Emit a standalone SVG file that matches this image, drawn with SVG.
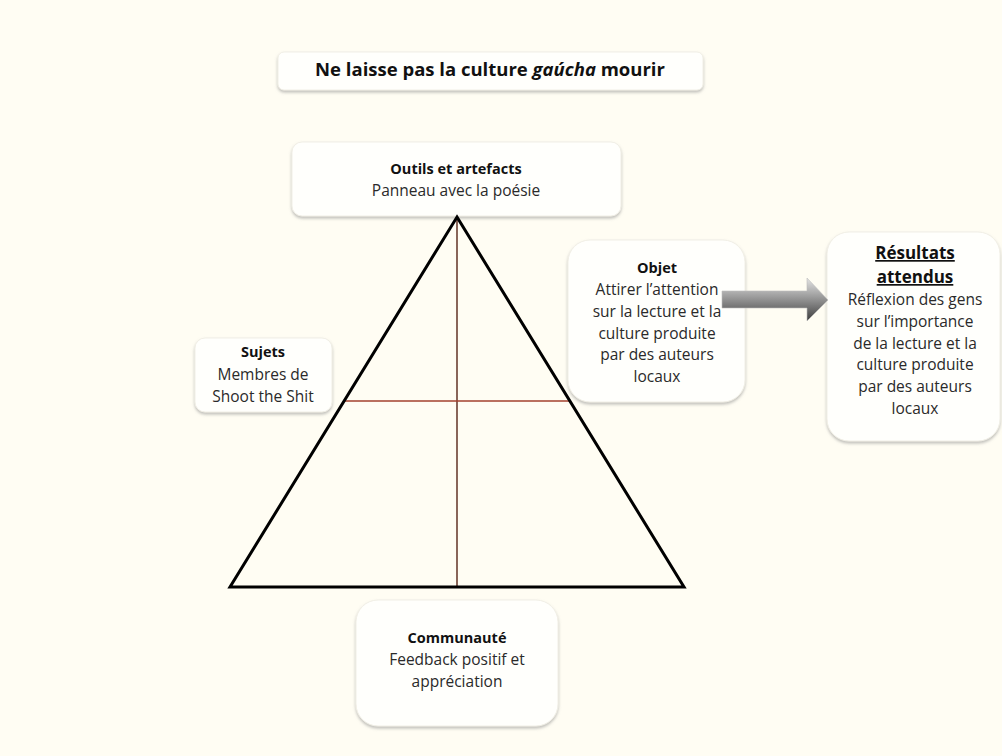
<svg xmlns="http://www.w3.org/2000/svg" width="1002" height="756" viewBox="0 0 1002 756">
<style>
.box{fill:#fffffc;stroke:#f1efe6;stroke-width:1;filter:url(#sh)}
text{font-family:"Open Sans","Liberation Sans",sans-serif;font-size:15.5px;fill:#2a2a2a;text-anchor:middle}
.b{font-size:14.5px;font-weight:bold;fill:#111}
.t{font-size:18.5px;font-weight:bold;fill:#111}
.r{font-size:17px;font-weight:bold;fill:#111;text-decoration:underline}
</style>
<defs>
<filter id="sh" x="-10%" y="-10%" width="120%" height="130%">
<feDropShadow dx="0" dy="2" stdDeviation="1.6" flood-color="#8a8a8a" flood-opacity="0.55"/>
</filter>
<linearGradient id="ag" x1="0" y1="0" x2="0" y2="1">
<stop offset="0" stop-color="#e4e4e4"/>
<stop offset="0.45" stop-color="#9a9a9a"/>
<stop offset="1" stop-color="#3e3e3e"/>
</linearGradient>
</defs>
<rect width="1002" height="756" fill="#fffdf3"/>

<g id="title">
<rect class="box" x="278" y="52" width="425" height="38" rx="6"/>
<text class="t" x="490" y="76">Ne laisse pas la culture <tspan font-style="italic">gaúcha</tspan> mourir</text>
</g>

<g id="outils">
<rect class="box" x="292" y="142" width="329" height="74" rx="10"/>
<text class="b" x="456" y="174">Outils et artefacts</text>
<text x="456" y="196">Panneau avec la poésie</text>
</g>

<g id="sujets">
<rect class="box" x="195" y="338" width="137" height="74" rx="10"/>
<text class="b" x="263" y="357">Sujets</text>
<text x="263" y="380">Membres de</text>
<text x="263" y="402">Shoot the Shit</text>
</g>

<g id="objet">
<rect class="box" x="568" y="240" width="177" height="162" rx="22"/>
<text class="b" x="657" y="273">Objet</text>
<text x="657" y="295">Attirer l’attention</text>
<text x="657" y="317">sur la lecture et la</text>
<text x="657" y="339">culture produite</text>
<text x="657" y="360">par des auteurs</text>
<text x="657" y="382">locaux</text>
</g>

<g id="resultats">
<rect class="box" x="827" y="232" width="173" height="209" rx="22"/>
<text class="r" x="915" y="259">Résultats</text>
<text class="r" x="915" y="283">attendus</text>
<text x="915" y="305">Réflexion des gens</text>
<text x="915" y="327">sur l’importance</text>
<text x="915" y="349">de la lecture et la</text>
<text x="915" y="370">culture produite</text>
<text x="915" y="392">par des auteurs</text>
<text x="915" y="414">locaux</text>
</g>

<g id="communaute">
<rect class="box" x="356" y="600" width="202" height="126" rx="22"/>
<text class="b" x="457" y="643">Communauté</text>
<text x="457" y="665">Feedback positif et</text>
<text x="457" y="687">appréciation</text>
</g>

<g id="triangle">
<line x1="457" y1="217" x2="457" y2="587" stroke="#7d5548" stroke-width="1.8"/>
<line x1="345" y1="401" x2="570" y2="401" stroke="#a3412e" stroke-width="1.4"/>
<polygon points="457,217 684,587 230,587" fill="none" stroke="#000" stroke-width="3" stroke-linejoin="miter"/>
</g>

<g id="connectors">
<path d="M722,291 L807,291 L807,278 L828,300 L807,321 L807,308 L722,308 Z" fill="url(#ag)" stroke="#bdbdbd" stroke-width="0.6"/>
</g>
</svg>
